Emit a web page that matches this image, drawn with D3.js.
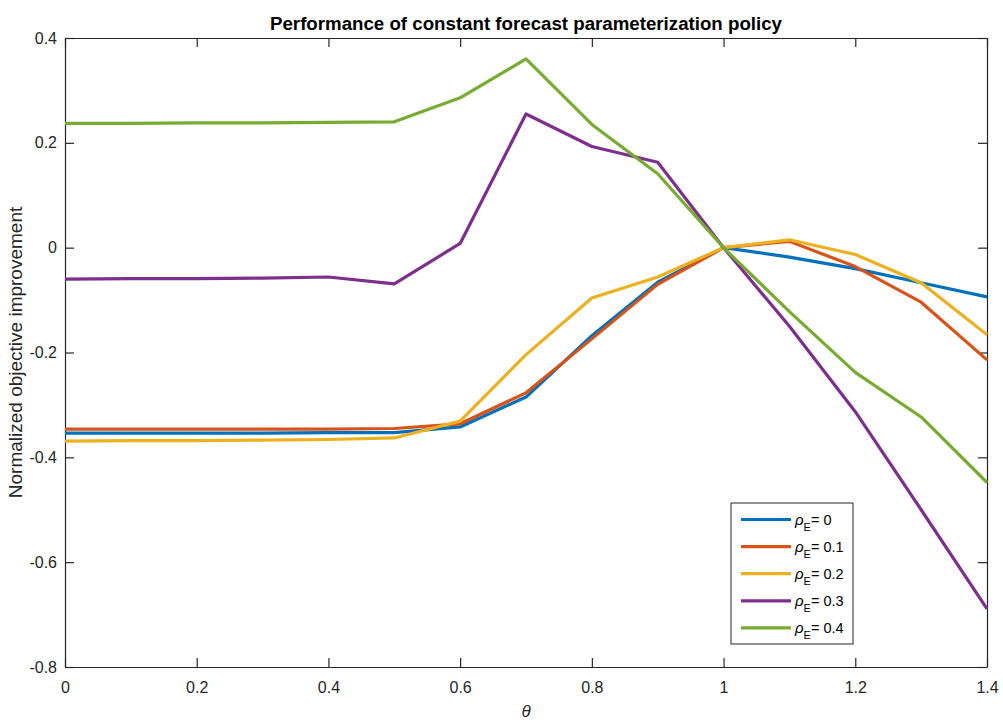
<!DOCTYPE html>
<html>
<head>
<meta charset="utf-8">
<script src="https://d3js.org/d3.v7.min.js"></script>
<style>
  body { margin: 0; background: #fff; }
  text { font-family: "Liberation Sans", Arial, sans-serif; }
</style>
</head>
<body>
<div id="chart"></div>
<script>
// theta values (x) and one array per rho_E series
const theta = [0, 0.1, 0.2, 0.3, 0.4, 0.5, 0.6, 0.7, 0.8, 0.9, 1.0, 1.1, 1.2, 1.3, 1.4];
const rho0  = [-0.354, -0.354, -0.354, -0.354, -0.353, -0.353, -0.342, -0.285, -0.168, -0.066, 0, -0.018, -0.040, -0.067, -0.094];
const rho01 = [-0.346, -0.346, -0.346, -0.346, -0.346, -0.345, -0.336, -0.277, -0.174, -0.070, 0, 0.012, -0.036, -0.104, -0.214];
const rho02 = [-0.369, -0.368, -0.368, -0.367, -0.366, -0.363, -0.331, -0.204, -0.096, -0.056, 0, 0.015, -0.013, -0.067, -0.166];
const rho03 = [-0.060, -0.059, -0.059, -0.058, -0.056, -0.069, 0.008, 0.255, 0.193, 0.163, 0, -0.150, -0.313, -0.500, -0.689];
const rho04 = [0.237, 0.237, 0.238, 0.238, 0.239, 0.240, 0.286, 0.360, 0.235, 0.141, 0, -0.122, -0.238, -0.323, -0.448];

const seriesNames = ["0", "0.1", "0.2", "0.3", "0.4"];
const seriesColors = ["#0072BD", "#D95319", "#EDB120", "#7E2F8E", "#77AC30"];
const allSeries = [rho0, rho01, rho02, rho03, rho04];

const xTicks = [0, 0.2, 0.4, 0.6, 0.8, 1, 1.2, 1.4];
const yTicks = [-0.8, -0.6, -0.4, -0.2, 0, 0.2, 0.4];

const W = 1003, H = 722;
const margin = {top: 38, right: 16, bottom: 55, left: 65};
const width = W - margin.left - margin.right,
      height = H - margin.top - margin.bottom;

const svg = d3.select("#chart").append("svg")
    .attr("width", W).attr("height", H);
const g = svg.append("g")
    .attr("transform", `translate(${margin.left},${margin.top})`);

const x = d3.scaleLinear().domain([0, 1.4]).range([0, width]);
const y = d3.scaleLinear().domain([-0.8, 0.4]).range([height, 0]);

const axisColor = "#262626";

// axes, ticks pointing inward, plain hyphen for negatives
const fmt = d => String(+d.toFixed(1));
g.append("g").attr("transform", `translate(0,${height})`)
  .call(d3.axisBottom(x).tickValues(xTicks).tickSizeInner(-9).tickSizeOuter(0).tickPadding(15).tickFormat(fmt));
g.append("g")
  .call(d3.axisTop(x).tickValues(xTicks).tickSizeInner(-9).tickSizeOuter(0).tickFormat(""));
g.append("g")
  .call(d3.axisLeft(y).tickValues(yTicks).tickSizeInner(-9).tickSizeOuter(0).tickPadding(8).tickFormat(fmt));
g.append("g").attr("transform", `translate(${width},0)`)
  .call(d3.axisRight(y).tickValues(yTicks).tickSizeInner(-9).tickSizeOuter(0).tickFormat(""));

g.selectAll(".domain").attr("stroke", axisColor).attr("stroke-width", 1.2);
g.selectAll(".tick line").attr("stroke", axisColor).attr("stroke-width", 1.2);
g.selectAll(".tick text").attr("fill", axisColor).style("font-size", "16px");

// lines
const line = d3.line().x((d, i) => x(theta[i])).y(d => y(d));
allSeries.forEach((s, k) => {
  g.append("path").datum(s)
    .attr("fill", "none")
    .attr("stroke", seriesColors[k])
    .attr("stroke-width", 3.2)
    .attr("stroke-linejoin", "round")
    .attr("d", line);
});

// title
svg.append("text")
  .attr("x", margin.left + width / 2).attr("y", 30)
  .attr("text-anchor", "middle")
  .style("font-size", "18.7px").style("font-weight", "bold")
  .attr("fill", "#000")
  .text("Performance of constant forecast parameterization policy");

// axis labels
svg.append("text")
  .attr("x", margin.left + width / 2).attr("y", 717)
  .attr("text-anchor", "middle")
  .style("font-size", "17px").style("font-style", "italic")
  .attr("fill", axisColor)
  .text("θ");

svg.append("text")
  .attr("transform", `translate(22,${margin.top + height / 2}) rotate(-90)`)
  .attr("text-anchor", "middle")
  .style("font-size", "19px")
  .attr("fill", axisColor)
  .text("Normalized objective improvement");

// legend
const lg = svg.append("g").attr("transform", "translate(731,503)");
lg.append("rect").attr("width", 122).attr("height", 141)
  .attr("fill", "#fff").attr("stroke", axisColor).attr("stroke-width", 1);
seriesNames.forEach((n, k) => {
  const yy = 16.5 + k * 27.1;
  lg.append("line").attr("x1", 10).attr("x2", 60).attr("y1", yy).attr("y2", yy)
    .attr("stroke", seriesColors[k]).attr("stroke-width", 3.2);
  const t = lg.append("text").attr("x", 64).attr("y", yy + 5)
    .attr("fill", "#000").style("font-size", "14.5px");
  t.append("tspan").style("font-style", "italic").style("font-size", "15px").text("ρ");
  t.append("tspan").attr("dy", 6).style("font-size", "11px").text("E");
  t.append("tspan").attr("dy", -6).text("= " + n);
});
</script>
</body>
</html>
